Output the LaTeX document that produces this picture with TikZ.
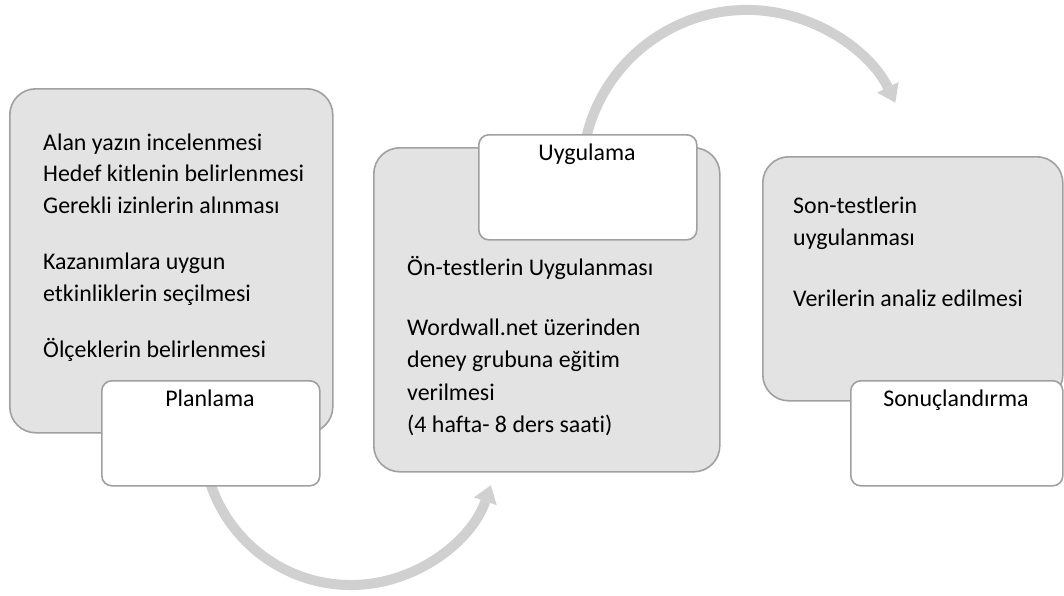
\documentclass[tikz,border=0pt]{standalone}
\usepackage{fontspec}
\setmainfont{Carlito}[Ligatures={NoCommon}]
\usetikzlibrary{arrows.meta}
\definecolor{boxfill}{HTML}{E3E3E3}
\definecolor{boxline}{HTML}{A0A0A0}
\definecolor{arrowgray}{HTML}{D0D0D0}
\begin{document}
\begin{tikzpicture}[x=1pt,y=-1pt,
  stagebox/.style={draw=boxline, fill=boxfill, line width=1.6pt, rounded corners=26pt, anchor=north west, inner sep=0pt},
  tagbox/.style={draw=boxline, fill=white, line width=1.6pt, rounded corners=10pt, anchor=north west, inner sep=0pt},
  bodytext/.style={anchor=north west, align=left, inner sep=0pt},
  tagtext/.style={anchor=base, inner sep=0pt, font=\fontsize{23.9}{28}\selectfont},
  flowarrow/.style={draw=arrowgray, line width=10pt, -{Triangle[length=17pt,width=24pt,line width=0pt]}}]
\useasboundingbox[fill=white] (0,0) rectangle (1064,595);

% connectors (behind boxes)
\coordinate (a1start) at (205.2,462.7);
\coordinate (a2start) at (584.5,146.3);
\draw[flowarrow] (a1start) arc[start angle=170, end angle=19, radius=148];
\draw[flowarrow] (a2start) arc[start angle=190, end angle=334, radius=165];

% stage boxes
\node[stagebox, minimum width=323pt, minimum height=344pt] (plan) at (9,88) {};
\node[stagebox, minimum width=346pt, minimum height=324pt] (uyg) at (373,147) {};
\node[stagebox, minimum width=300pt, minimum height=244pt] (son) at (762,156) {};

% tag boxes
\node[tagbox, minimum width=218pt, minimum height=105pt] (plantag) at (101,380) {};
\node[tagbox, minimum width=218pt, minimum height=105pt] (uygtag) at (478,134) {};
\node[tagbox, minimum width=212pt, minimum height=105pt] (sontag) at (850,380) {};

% tag texts
\node[tagtext] (plantxt) at (210,406.7) {Planlama};
\node[tagtext] (uygtxt) at (587,160) {Uygulama};
\node[tagtext] (sontxt) at (956,406.7) {Sonuçlandırma};

% body texts
\node[bodytext, font=\fontsize{23.9}{31.5}\selectfont] (planbody) at (43,133.4) {Alan yazın incelenmesi\\Hedef kitlenin belirlenmesi\\Gerekli izinlerin alınması\\[25pt]Kazanımlara uygun\\etkinliklerin seçilmesi\\[25pt]Ölçeklerin belirlenmesi};
\node[bodytext, font=\fontsize{23.9}{32.5}\selectfont] (uygbody) at (407,256) {Ön-testlerin Uygulanması\\[27.5pt]Wordwall.net üzerinden\\deney grubuna eğitim\\verilmesi\\(4 hafta- 8 ders saati)};
\node[bodytext, font=\fontsize{23.9}{32}\selectfont] (sonbody) at (793,196.7) {Son-testlerin\\uygulanması\\[29pt]Verilerin analiz edilmesi};
\end{tikzpicture}
\end{document}
